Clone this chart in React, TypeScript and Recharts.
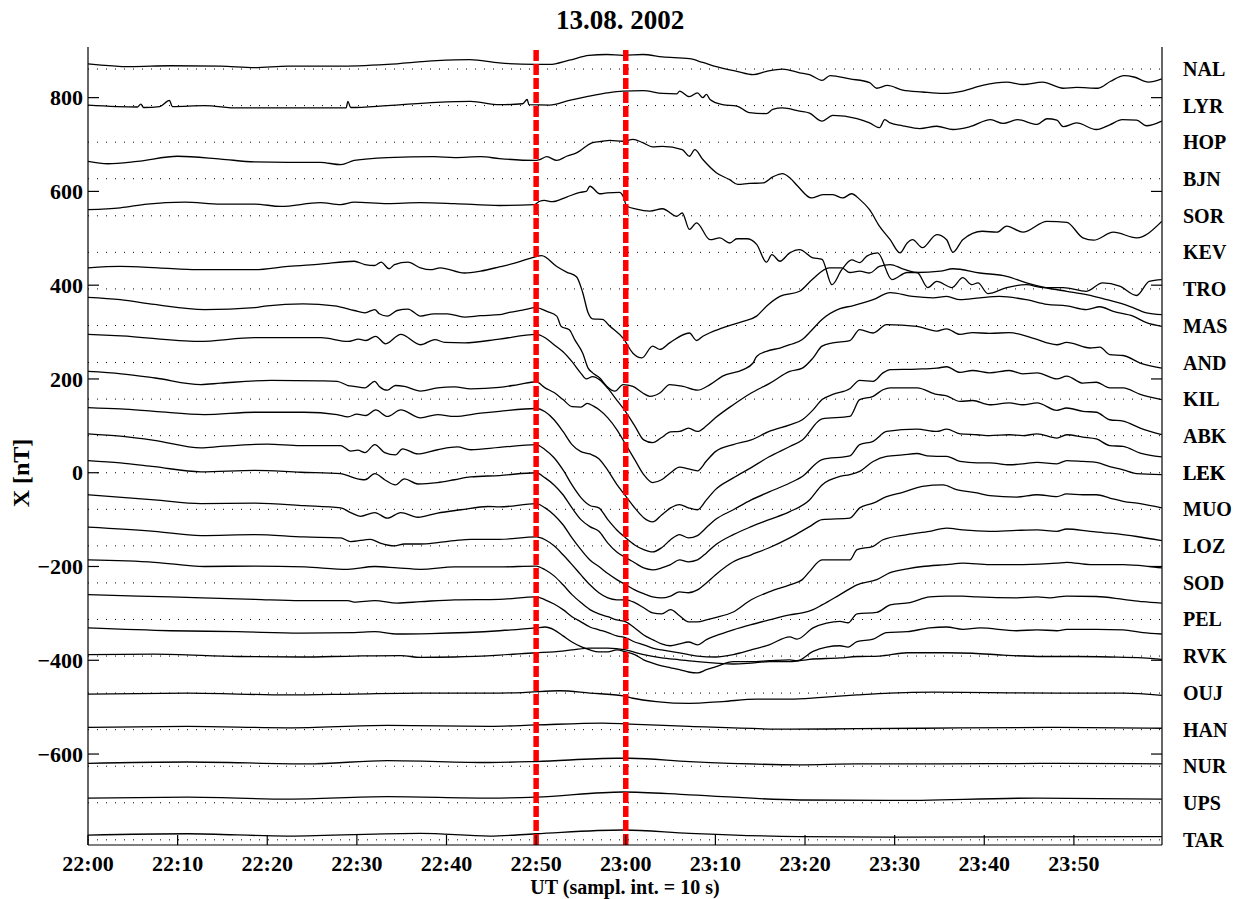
import React from "react";
import { LineChart, Line, XAxis, YAxis, ReferenceLine } from "recharts";

// station codes, top to bottom, and the offset (nT) each trace is stacked on
const stations = ["NAL", "LYR", "HOP", "BJN", "SOR", "KEV", "TRO", "MAS", "AND", "KIL", "ABK", "LEK", "MUO", "LOZ", "SOD", "PEL", "RVK", "OUJ", "HAN", "NUR", "UPS", "TAR"];
const baselines = [861, 783, 705, 627, 548, 470, 392, 314, 235, 157, 79, 0, -78, -156, -235, -313, -391, -470, -548, -626, -704, -783];

// [minutes after 22:00, X in plot units (nT incl. offset)]
const nal = [[0,872],[4.7,866],[9.2,868],[14.8,867],[18.6,864],[22.3,867],[27.8,867],[33.4,871],[38.9,879],[42.6,881],[45.9,874],[49.8,871],[51.5,871],[53.7,880],[55.9,890],[57.9,892],[59.7,890],[61.9,892],[64.1,887],[67.1,883],[68.6,875],[70.1,866],[72.4,856],[74.2,849],[75.7,856],[77.5,861],[79.4,853],[80.5,849],[81.9,837],[82.8,847],[85,840],[87.2,832],[88,820],[89.2,826],[90.9,816],[93.1,812],[95.4,809],[97.6,814],[99.8,826],[102.5,833],[104.3,828],[106.5,833],[108.8,820],[110.3,822],[112.7,820],[114.1,835],[115.6,847],[116.7,844],[118.3,833],[119.8,840]];
const lyr = [[0,784],[5.5,780],[5.9,786],[6.2,779],[8,781],[9.1,794],[9.4,781],[13,783],[16.7,778],[20.4,778],[25.9,778],[28.8,778],[29,792],[29.3,779],[33.4,783],[38.9,790],[42.7,792],[45.9,785],[48.5,787],[49,796],[49.2,785],[51.5,784],[53.7,794],[55.9,803],[57.9,810],[59.7,814],[61.9,815],[64.1,809],[65.7,808],[66,814],[67.1,802],[68,810],[68.6,800],[69,807],[69.4,796],[70.8,785],[72.4,782],[73.8,768],[75.7,766],[76.4,775],[77.5,778],[79.4,771],[80.5,767],[81.9,750],[83.1,762],[85.8,755],[87.2,746],[88.3,736],[88.9,753],[89.5,746],[90.9,740],[92.8,734],[94.7,739],[96.5,732],[98.4,738],[100.7,753],[102.1,745],[103.7,753],[105.9,743],[107,755],[108.1,752],[108.8,738],[110.3,746],[112.5,732],[114,742],[115.4,753],[117,752],[118.1,740],[119.8,750]];
const hop = [[0,664],[2.2,659],[5.5,664],[10,675],[14.8,669],[18.6,663],[22.3,662],[25.9,662],[28.2,657],[29.7,666],[33.4,672],[38.6,674],[40.9,672],[43.8,674],[45.9,670],[49.8,666],[50.4,668],[51.2,674],[52.3,666],[53.4,675],[54.5,682],[56.3,704],[57.4,707],[58.2,709],[59.7,707],[60.8,711],[61.9,704],[63,695],[64.1,696],[66.3,689],[67.1,675],[67.7,689],[68.6,668],[70.1,640],[71.6,625],[72.5,615],[73.8,617],[75.3,618],[76.4,631],[77.5,638],[78.3,629],[79.2,611],[80.7,586],[82,593],[83.1,593],[84.2,586],[85.2,595],[86.1,583],[87.2,561],[88.3,526],[89.5,497],[90.6,469],[91.4,490],[92,497],[93.1,480],[94.7,508],[95.8,497],[96.5,470],[97.6,497],[99.8,515],[101.4,513],[102.5,526],[104.3,513],[107,536],[109.2,534],[111,501],[112.2,496],[114.4,513],[117,501],[119.8,536]];
const bjn = [[0,561],[3.6,565],[6.6,573],[10.8,577],[14.8,573],[18.6,573],[21.5,568],[25.9,576],[28.2,572],[29.7,577],[33.4,574],[37.1,576],[40.9,574],[45.9,570],[49.8,572],[50.4,579],[50.9,581],[51.8,578],[53.4,588],[54.9,598],[55.6,600],[56,611],[57.1,595],[57.9,597],[59.3,598],[59.7,590],[60.1,569],[61.2,562],[62.7,558],[64.1,563],[65.7,547],[66.3,554],[67.1,519],[67.9,533],[69.4,497],[70.5,501],[71.6,490],[72.4,499],[73.5,499],[74.6,487],[75.7,449],[76.3,465],[77.2,451],[78.3,469],[79.4,476],[80.8,459],[81.9,455],[83,401],[84.1,433],[85.2,454],[86.1,448],[86.9,462],[88.1,469],[89.7,412],[91.4,427],[92.5,427],[93.7,395],[94.7,408],[96.4,395],[97.6,416],[98.6,401],[99.3,405],[100.4,382],[102.5,395],[104.7,401],[106.5,395],[108.8,395],[111.4,387],[113.2,405],[115.1,398],[117,378],[118.4,408],[119.8,412]];
const sor = [[0,437],[3.6,440],[7.8,437],[12.2,433],[18.6,433],[22.3,440],[25.9,445],[29.7,451],[30.9,444],[32,442],[32.7,449],[33.6,435],[34.2,444],[35.7,449],[37.1,437],[38.2,433],[39.3,437],[42,426],[43.8,430],[45.9,439],[47.8,448],[49.8,460],[50.6,463],[52.3,440],[53.4,428],[54.5,418],[55.2,384],[55.8,341],[56.3,328],[57.4,327],[58.2,313],[59.7,287],[60.8,255],[61.8,245],[63,270],[63.8,263],[64.9,277],[67.1,298],[67.9,282],[68.6,291],[70.8,309],[73.1,323],[74.6,334],[75.7,355],[77.2,376],[79.4,387],[80.8,412],[82.7,437],[84.1,437],[85,427],[86.1,430],[87.2,426],[88.3,440],[89.5,444],[90.9,435],[92.5,427],[95.1,430],[96.5,435],[99.5,426],[102.5,419],[104.7,405],[107,394],[109.2,387],[111.4,380],[113.7,369],[116.2,355],[118.1,341],[119.8,337]];
const kev = [[0,374],[3.6,369],[7.4,359],[13,348],[18.6,352],[20,356],[24,360],[27.5,356],[29.7,346],[30.9,341],[32,348],[32.5,339],[33.4,334],[34.5,346],[35.7,349],[37.1,334],[38.6,339],[40.1,339],[42,332],[43.8,335],[45.9,337],[47,342],[48.5,347],[50,352],[51.2,344],[52.3,334],[52.8,312],[53.7,305],[54.3,284],[55.2,255],[55.8,223],[56.3,213],[57.1,202],[57.9,184],[58.8,174],[59.7,188],[60.8,184],[61.9,170],[62.7,163],[63.8,170],[64.9,188],[66.4,184],[68,176],[69.4,188],[70.8,206],[73.1,220],[74.2,234],[74.6,248],[75.7,259],[77.2,266],[78.3,273],[79.7,284],[80.5,299],[81.9,327],[83.9,350],[85.3,356],[87.6,369],[89.5,384],[92,376],[94.3,373],[95.8,376],[97.3,369],[99.5,373],[101.7,376],[104.7,369],[107,359],[109.2,356],[111.4,348],[112.9,354],[114.4,344],[116.6,334],[118.1,320],[119.8,312]];
const tro = [[0,295],[3.7,292],[12.3,280],[18.6,288],[26,288],[29,280],[30.2,285],[31,282],[32.1,291],[33.2,275],[34.9,295],[37.1,273],[38.7,284],[39.8,278],[42,277],[45.9,285],[50,295],[51,288],[52,273],[53,258],[54,237],[55,212],[55.6,200],[56.3,205],[57.1,198],[58,180],[59,155],[60,130],[61,100],[62,70],[63,64],[64,75],[65,87],[66,88],[67,95],[68,88],[69,100],[70,117],[72,145],[74,170],[76,190],[78.3,216],[79.7,223],[80.9,245],[81.9,270],[83.1,277],[85,282],[86.1,305],[87.6,298],[89.1,316],[92.5,312],[94.7,302],[95.8,307],[97.3,295],[98.7,299],[100.6,297],[102.8,299],[105.4,287],[108.1,273],[109.2,278],[111.8,266],[112.9,268],[114,252],[115.5,250],[117.4,234],[119.8,223]];
const mas = [[0,216],[3.7,211],[7.5,202],[12.6,188],[14.8,191],[20.4,197],[25.9,196],[27.8,195],[29,186],[29.7,184],[30.9,181],[32,195],[32.5,184],[33.4,176],[34.3,186],[35.3,184],[37.1,174],[39,181],[40.9,183],[42.7,179],[45.9,182],[48,188],[50,194],[51,181],[52,171],[53,156],[54,141],[55,140],[55.7,148],[56.4,142],[57,135],[58,117],[59,92],[60,60],[61,28],[62,-4],[63,-21],[64,-15],[65,0],[66,12],[67,8],[68,4],[69,25],[70,45],[72,60],[74,70],[76,88],[78.3,102],[79.7,113],[80.9,134],[81.9,156],[83.1,167],[85,179],[86.1,197],[87.6,195],[88.7,213],[89.5,220],[92.5,221],[94.7,223],[95.8,226],[97.3,214],[98.7,218],[100.6,213],[102.8,218],[104.3,211],[105.9,213],[108.1,200],[109.2,206],[111,191],[112.5,193],[114,181],[115.5,181],[117.4,167],[119.8,156]];
const and = [[0,139],[3.6,136],[7.4,131],[13,124],[18.6,129],[24.1,129],[27.8,124],[29,119],[30,125],[31,122],[32.1,134],[33.4,120],[34.9,134],[37.1,117],[39,124],[40.9,120],[43.8,127],[45.9,131],[50,137],[51,130],[52,113],[53,88],[54,60],[55,45],[56,40],[57,30],[58,5],[59,-25],[60,-50],[61,-75],[62,-96],[63,-105],[64,-90],[65,-75],[66,-68],[67,-75],[68,-79],[69,-58],[70,-36],[72,-11],[74,11],[76,34],[78.3,56],[79.7,70],[81.9,115],[85,120],[86.1,156],[87.6,163],[88.7,177],[89.5,181],[92.5,181],[94.7,167],[95.8,164],[97.3,152],[98.7,154],[100.6,145],[102.8,149],[104.3,145],[105.9,149],[108.1,133],[109.2,138],[111,131],[112.5,129],[114,113],[115.5,110],[117.4,95],[119.8,81]];
const kil = [[0,83],[3.6,78],[7.4,69],[12.6,53],[14.8,56],[20,61],[23.7,58],[28.2,58],[29.3,46],[30.1,48],[30.9,43],[32,60],[33.1,43],[34.3,38],[35.1,51],[36.8,40],[39,49],[41.2,55],[42.7,49],[45.9,54],[50,60],[51,49],[52,32],[53,6],[54,-26],[55,-53],[56,-70],[57,-75],[58,-100],[59,-122],[60,-139],[61,-154],[62,-164],[63,-169],[64,-160],[65,-143],[66,-132],[67,-139],[68,-134],[69,-117],[70,-100],[72,-79],[74,-58],[76,-41],[78.3,-22],[79.7,-8],[81.9,28],[85,36],[86.1,60],[87.6,67],[89.1,88],[92.5,93],[94.7,88],[95.8,93],[97.3,83],[99.2,81],[100.6,79],[102.8,81],[104.3,79],[105.9,83],[108.1,74],[109.2,81],[111,76],[112.5,72],[114,58],[115.5,56],[117.4,42],[119.8,34]];
const abk = [[0,26],[3.6,21],[7.4,13],[12.6,2],[18.6,5],[23.7,1],[28.2,-2],[29.7,-11],[30.9,-15],[32,-2],[33.1,-15],[34.3,-26],[35.3,-13],[36.8,-24],[39,-21],[40.9,-15],[42.7,-9],[45.9,-6],[50,0],[51,-11],[52,-26],[53,-47],[54,-75],[55,-100],[56,-115],[57,-125],[58,-150],[59,-169],[60,-181],[61,-192],[62,-203],[63,-207],[64,-203],[65,-196],[66,-186],[67,-190],[68,-186],[69,-171],[70,-154],[72,-132],[74,-115],[76,-100],[78.3,-83],[80.5,-58],[81.9,-26],[83.9,-8],[85,-4],[86.1,3],[87.6,24],[89.1,35],[90.9,38],[92.5,41],[93.6,36],[94.7,35],[95.8,35],[97.3,24],[99.2,21],[100.6,21],[102.8,17],[104.3,19],[105.9,22],[108.1,19],[109.2,26],[111,24],[112.5,22],[114,13],[115.5,6],[117,-2],[119.8,-4]];
const lek = [[0,-47],[7.4,-58],[12.6,-66],[18.6,-65],[24.1,-70],[28.2,-75],[29.3,-85],[30.4,-93],[32,-85],[33.4,-97],[34.9,-85],[36.8,-95],[39,-86],[41.6,-79],[44.6,-72],[45.9,-73],[50,-66],[51,-75],[52,-90],[53,-111],[54,-139],[55,-164],[56,-186],[57,-200],[58,-215],[59,-228],[60,-239],[61,-250],[62,-258],[63,-265],[64,-267],[65,-263],[66,-254],[67,-256],[68,-250],[69,-235],[70,-218],[72,-190],[74,-175],[76,-160],[78.3,-139],[80.5,-115],[81.9,-100],[85,-97],[86.1,-75],[87.6,-65],[89.1,-51],[90.9,-42],[93.1,-29],[95.4,-26],[96.9,-36],[99.2,-43],[100.6,-49],[103.6,-52],[105.9,-47],[108.1,-51],[109.2,-45],[111,-47],[112.5,-47],[114,-54],[115.5,-61],[117.4,-66],[119.8,-75]];
const muo = [[0,-116],[7.4,-125],[12.6,-134],[18.6,-132],[24.1,-137],[28.2,-139],[29.3,-147],[31.5,-142],[32.6,-150],[34.2,-156],[35.3,-152],[37.1,-152],[39,-149],[40.9,-145],[42.7,-142],[45.9,-142],[50,-137],[51,-143],[52,-156],[53,-175],[54,-196],[55,-218],[56,-239],[57,-256],[58,-267],[59,-271],[60,-271],[61,-277],[62,-288],[63,-299],[64,-301],[65,-292],[66,-305],[67,-318],[68,-318],[69,-314],[70,-309],[72,-297],[74,-271],[76,-254],[78.3,-239],[79.7,-228],[80.5,-211],[81.9,-186],[83.9,-186],[85,-186],[85.8,-164],[87.6,-157],[88.7,-143],[91.4,-132],[93.9,-125],[95.8,-118],[97.6,-122],[100.6,-125],[103.6,-123],[105.9,-122],[108.1,-125],[109.2,-120],[111.8,-125],[114,-129],[117,-136],[119.8,-145]];
const loz = [[0,-186],[7.4,-191],[13,-200],[18.6,-199],[24.2,-201],[29,-206],[32,-200],[34.5,-203],[37.1,-206],[40.9,-201],[45.9,-201],[50,-199],[51,-207],[52,-220],[53,-239],[54,-260],[55,-277],[56,-292],[57,-301],[58,-307],[59,-314],[60,-318],[61,-331],[62,-346],[63,-356],[64,-365],[65,-369],[66,-365],[67,-361],[68,-367],[69,-356],[70,-348],[72,-335],[74,-324],[76,-314],[78.3,-303],[79.7,-299],[80.9,-292],[81.9,-282],[83.9,-260],[85.8,-239],[88,-228],[89.5,-213],[91.4,-205],[93.1,-200],[95.8,-196],[97.6,-193],[100.6,-196],[104.3,-196],[108.1,-193],[109.2,-191],[111.8,-196],[115.5,-196],[118.4,-200],[119.8,-203]];
const sod = [[0,-260],[9.2,-265],[18.6,-270],[23.7,-273],[29,-273],[29.7,-276],[32,-273],[34.5,-278],[37.1,-275],[40.9,-271],[45.9,-270],[50,-265],[51,-271],[52,-280],[53,-292],[54,-307],[55,-318],[56,-329],[57,-335],[58,-341],[59,-348],[60,-352],[61,-361],[62,-367],[63,-374],[64,-378],[66,-384],[68,-391],[70,-393],[72,-388],[74,-378],[76,-367],[78.3,-350],[79.1,-355],[80.9,-331],[82.4,-321],[83.9,-317],[84.8,-320],[85.8,-301],[88,-298],[89.5,-282],[91.7,-277],[93.9,-265],[95.8,-263],[97.6,-263],[99.2,-265],[103.6,-267],[105.9,-265],[107.3,-267],[109.2,-263],[112.5,-264],[115.5,-270],[117.7,-275],[119.8,-278]];
const pel = [[0,-331],[9.2,-337],[16.7,-339],[23.7,-342],[29.7,-341],[32,-339],[34.5,-344],[38.2,-343],[45.9,-337],[50,-331],[51,-329],[52,-335],[53,-348],[54,-361],[55,-371],[56,-378],[57,-382],[58,-382],[59,-378],[60,-382],[61,-388],[62,-399],[63,-406],[64,-412],[65,-416],[66,-420],[67,-425],[68,-427],[69,-420],[70,-414],[72,-403],[74,-403],[76,-401],[78.3,-399],[79.1,-401],[80.9,-381],[82.4,-372],[83.9,-369],[84.8,-372],[85.8,-360],[87.6,-355],[89.1,-341],[91.4,-339],[93.9,-331],[95.8,-329],[97.6,-334],[99.5,-331],[103.6,-337],[105.9,-335],[108.1,-337],[109.2,-334],[112.5,-334],[115.5,-335],[117.7,-341],[119.8,-344]];
const rvk = [[0,-388],[7.4,-387],[16.7,-392],[23.7,-393],[29.7,-391],[34.9,-390],[37.1,-394],[40.9,-393],[45.9,-389],[50,-384],[52,-382],[54,-378],[56,-374],[58,-374],[60,-378],[62,-388],[64,-395],[66,-399],[68,-403],[70,-406],[72,-408],[74,-406],[76,-403],[78.3,-403],[80.5,-398],[83.9,-395],[85.8,-392],[88.3,-391],[91.4,-384],[95.8,-384],[98.7,-385],[102.1,-389],[106.5,-392],[110.3,-392],[114,-393],[117.7,-395],[119.8,-398]];
const ouj = [[0,-472],[11.1,-470],[22.3,-474],[29.7,-472],[37.1,-470],[44.8,-470],[48.5,-469],[52.6,-465],[56,-470],[59.7,-476],[60.8,-481],[63.4,-488],[67.1,-492],[70.8,-488],[74.6,-483],[78.3,-483],[81.9,-479],[85.8,-474],[89.5,-470],[94.3,-468],[100.6,-469],[108.1,-470],[115.5,-470],[119.8,-475]];
const han = [[0,-543],[11.1,-541],[22.3,-544],[33.4,-539],[44.8,-541],[50,-538],[57.4,-534],[60.4,-536],[67.1,-541],[78.3,-547],[85.8,-546],[93.1,-545],[108.1,-543],[119.8,-545]];
const nur = [[0,-620],[11.1,-617],[24.5,-621],[33.4,-614],[44.8,-618],[50,-616],[59,-609],[60.4,-609],[67.1,-616],[79.4,-623],[85.8,-621],[93.1,-621],[108.1,-620],[119.8,-621]];
const ups = [[0,-694],[11.1,-692],[22.3,-696],[33.4,-691],[44.8,-694],[50,-692],[59.7,-681],[67.1,-687],[79.4,-698],[89.5,-699],[105.9,-694],[119.8,-696]];
const tar = [[0,-773],[11.1,-770],[22.3,-775],[37.1,-769],[44.8,-775],[50,-770],[59.7,-762],[67.1,-769],[79.4,-776],[89.5,-777],[119.8,-776]];

const traces = [nal, lyr, hop, bjn, sor, kev, tro, mas, and, kil, abk, lek, muo, loz, sod, pel, rvk, ouj, han, nur, ups, tar];

const timeTicks = [0, 10, 20, 30, 40, 50, 60, 70, 80, 90, 100, 110];
const timeLabels = ["22:00", "22:10", "22:20", "22:30", "22:40", "22:50", "23:00", "23:10", "23:20", "23:30", "23:40", "23:50"];
const valueTicks = [-600, -400, -200, 0, 200, 400, 600, 800];
const markerTimes = [50, 60]; // 22:50 and 23:00

const FONT = '"Liberation Serif", "Times New Roman", serif';

const LeftTick = (props: any) => {
  const { x, y, payload } = props;
  const v = payload.value;
  return (
    <g>
      <line x1={x} y1={y} x2={x + 11} y2={y} stroke="#000" strokeWidth={1.2} />
      <text x={x - 5} y={y} dy="0.35em" textAnchor="end" fontFamily={FONT} fontWeight="bold" fontSize={22} fill="#000">
        {v < 0 ? `\u2212${Math.abs(v)}` : v}
      </text>
    </g>
  );
};

const RightTick = (props: any) => {
  const { x, y, payload } = props;
  const idx = baselines.indexOf(payload.value);
  if (idx >= 0) {
    return (
      <text x={x + 21} y={y} dy="0.35em" textAnchor="start" fontFamily={FONT} fontWeight="bold" fontSize={20} fill="#000">
        {stations[idx]}
      </text>
    );
  }
  return <line x1={x - 11} y1={y} x2={x} y2={y} stroke="#000" strokeWidth={1.2} />;
};

const BottomTick = (props: any) => {
  const { x, y, payload, index } = props;
  return (
    <g>
      <line x1={x} y1={y} x2={x} y2={y - 10} stroke="#000" strokeWidth={1.2} />
      <text x={x} y={y + 26} textAnchor="middle" fontFamily={FONT} fontWeight="bold" fontSize={22} fill="#000">
        {timeLabels[index] ?? payload.value}
      </text>
    </g>
  );
};

const TopTick = (props: any) => {
  const { x, y } = props;
  return <line x1={x} y1={y} x2={x} y2={y + 10} stroke="#000" strokeWidth={1.2} />;
};

// rotated y-axis title, placed from the axis box recharts hands over
const YTitle = (props: any) => {
  const { viewBox } = props;
  const cx = viewBox.x + 21;
  const cy = viewBox.y + viewBox.height / 2 + 27;
  return (
    <text
      x={cx}
      y={cy}
      transform={`rotate(-90 ${cx} ${cy})`}
      dy="0.35em"
      textAnchor="middle"
      fontFamily={FONT}
      fontWeight="bold"
      fontSize={24}
      fill="#000"
    >
      X [nT]
    </text>
  );
};

export default function App() {
  const rightTicks = [...baselines, ...valueTicks];
  return (
    <div style={{ position: "absolute", left: 0, top: 0, width: 1237, height: 899, background: "#fff" }}>
      <div
        style={{
          position: "absolute",
          top: 7,
          left: 0,
          width: 1240,
          textAlign: "center",
          fontFamily: FONT,
          fontWeight: "bold",
          fontSize: 27,
          lineHeight: "27px",
        }}
      >
        13.08. 2002
      </div>
      <LineChart width={1237} height={899} margin={{ top: 47, right: 0, bottom: 0, left: 0 }}>
        <XAxis
          xAxisId="b"
          dataKey="t"
          type="number"
          domain={[0, 119.83]}
          allowDataOverflow
          ticks={timeTicks}
          interval={0}
          height={54}
          tickSize={0}
          tickMargin={0}
          tickLine={false}
          tick={<BottomTick />}
          axisLine={{ stroke: "#000", strokeWidth: 1.2 }}
          label={{
            value: "UT (sampl. int. = 10 s)",
            position: "insideBottom",
            offset: 5,
            style: { fontFamily: FONT, fontWeight: "bold", fontSize: 20, fill: "#000" },
          }}
        />
        <XAxis
          xAxisId="t"
          orientation="top"
          dataKey="t"
          type="number"
          domain={[0, 119.83]}
          allowDataOverflow
          ticks={timeTicks}
          interval={0}
          height={0}
          tickSize={0}
          tickMargin={0}
          tickLine={false}
          tick={<TopTick />}
          axisLine={{ stroke: "#000", strokeWidth: 1.2 }}
        />
        <YAxis
          yAxisId="l"
          type="number"
          domain={[-794, 908]}
          allowDataOverflow
          ticks={valueTicks}
          interval={0}
          width={88}
          tickSize={0}
          tickMargin={0}
          tickLine={false}
          tick={<LeftTick />}
          axisLine={{ stroke: "#000", strokeWidth: 1.2 }}
          label={{ content: <YTitle /> }}
        />
        <YAxis
          yAxisId="r"
          orientation="right"
          type="number"
          domain={[-794, 908]}
          allowDataOverflow
          ticks={rightTicks}
          interval={0}
          width={75}
          tickSize={0}
          tickMargin={0}
          tickLine={false}
          tick={<RightTick />}
          axisLine={{ stroke: "#000", strokeWidth: 1.2 }}
        />
        {baselines.map((b, i) => (
          <ReferenceLine
            key={`base-${stations[i]}`}
            xAxisId="b"
            yAxisId="l"
            y={b}
            stroke="#000"
            strokeWidth={1}
            strokeDasharray="1 8"
          />
        ))}
        {traces.map((tr, i) => (
          <Line
            key={stations[i]}
            xAxisId="b"
            yAxisId="l"
            data={tr.map(([t, v]) => ({ t, v }))}
            dataKey="v"
            type="monotone"
            stroke="#000"
            strokeWidth={1.3}
            dot={false}
            activeDot={false}
            isAnimationActive={false}
          />
        ))}
        {markerTimes.map((m) => (
          <ReferenceLine
            key={`mark-${m}`}
            xAxisId="b"
            yAxisId="l"
            x={m}
            stroke="#ff0000"
            strokeWidth={5.5}
            strokeDasharray="11 3"
          />
        ))}
      </LineChart>
    </div>
  );
}
